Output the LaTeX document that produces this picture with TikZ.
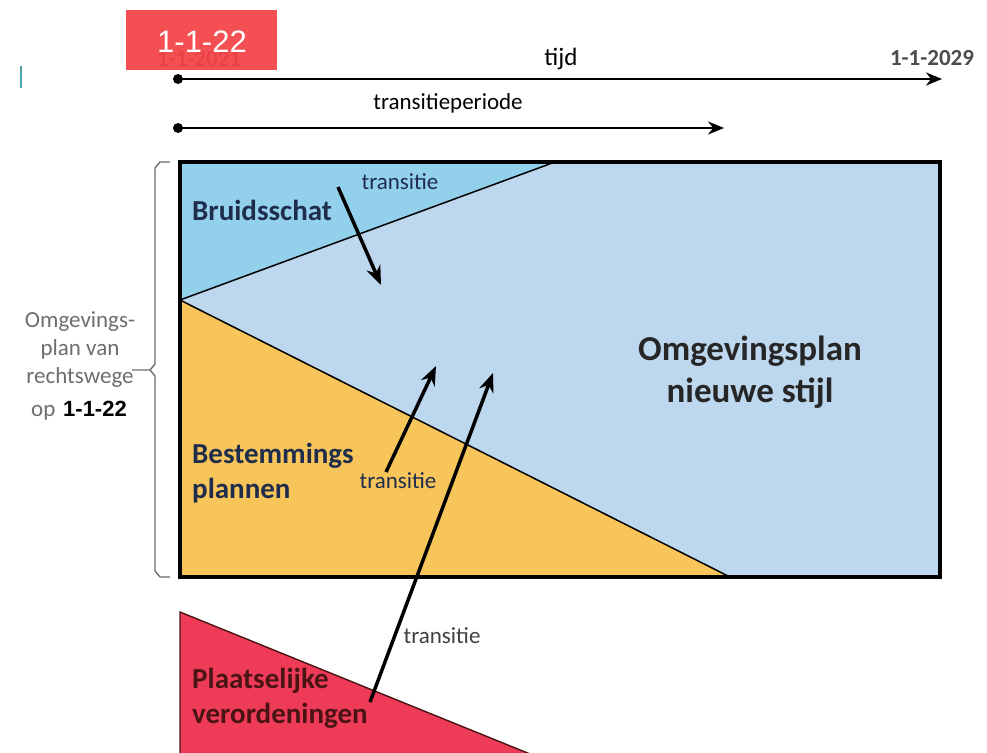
\documentclass[tikz,border=0pt]{standalone}
\usepackage{fontspec}
\setmainfont{Carlito}
\newfontfamily\arialfont{Liberation Sans}
\usetikzlibrary{arrows.meta}
\definecolor{bsblue}{HTML}{92D0EC}
\definecolor{mainblue}{HTML}{BDD7EE}
\definecolor{bpgold}{HTML}{F8C55A}
\definecolor{pvred}{HTML}{EE3B57}
\definecolor{navy}{HTML}{1F2D4D}
\definecolor{darkred}{HTML}{4A1414}
\definecolor{labelred}{HTML}{F44245}
\definecolor{greytext}{HTML}{6E6E6E}
\tikzset{
  timeline/.style={line width=2.6pt, -{Stealth[length=16pt,width=13pt]}},
  transarrow/.style={line width=3.5pt, -{Stealth[length=19pt,width=15pt]}},
  bigtitle/.style={font=\fontsize{29}{35}\selectfont\bfseries, text=navy, align=left, anchor=west, inner sep=0pt},
  smalltext/.style={font=\fontsize{23}{28}\selectfont, inner sep=0pt},
}
\begin{document}
\begin{tikzpicture}[x=1pt,y=-1pt]
\useasboundingbox (0,0) rectangle (987,752);
\fill[white] (0,0) rectangle (987,752);
% main rectangle
\fill[mainblue] (180,162) rectangle (940,577);
\fill[bsblue] (180,162) -- (555,162) -- (180,300) -- cycle;
\fill[bpgold] (180,300) -- (180,577) -- (730,577) -- cycle;
\draw[line width=1.5pt] (180,300) -- (555,162);
\draw[line width=1.5pt] (180,300) -- (730,577);
\draw[line width=3.2pt] (180,162) rectangle (940,577);
% red triangle
\fill[pvred, draw=darkred, line width=1.4pt] (180,612) -- (535,756) -- (180,756) -- cycle;
% brace
\draw[greytext, line width=1.4pt] (170,162) -- (160,162) -- (155,168) -- (155,364) -- (150,370) -- (132,370);
\draw[greytext, line width=1.4pt] (150,370) -- (155,376) -- (155,571) -- (160,577) -- (170,577);
% timelines
\coordinate (t0) at (178,79);
\coordinate (t1) at (942,79);
\coordinate (p0) at (178,128);
\coordinate (p1) at (724,128);
\fill (t0) circle (5);
\fill (p0) circle (5);
\draw[timeline] (t0) -- (t1);
\draw[timeline] (p0) -- (p1);
\node[smalltext, font=\fontsize{25}{30}\selectfont] (tijd) at (561,59) {tijd};
\node[smalltext, font=\fontsize{23}{28}\selectfont\bfseries, text=black!70] (end) at (932,58) {1-1-2029};
\node[smalltext] (tp) at (448,103) {transitieperiode};
% start date + red overlay label
\node[smalltext, font=\fontsize{23}{28}\selectfont\bfseries, text=darkred!80] (start) at (199,59) {1-1-2021};
\fill[labelred, opacity=0.93] (126,10) rectangle (277,70);
\node[font=\arialfont\fontsize{31}{34}\selectfont, text=white, inner sep=0pt] (red) at (202,42) {1-1-22};
% small teal mark
\draw[teal!70, line width=2.5pt] (21,66) -- (21,88);
% left label
\node[smalltext, text=greytext, align=center, anchor=north] (leftlbl) at (80,311) {Omgevings-\\plan van\\rechtswege};
\node[smalltext, text=greytext, anchor=base west] (op) at (31,416) {op};
\node[font=\arialfont\fontsize{22}{26}\selectfont\bfseries, anchor=base west, inner sep=0pt] (opdate) at (63,416) {1-1-22};
% region titles
\node[bigtitle] (bs) at (192,210) {Bruidsschat};
\node[bigtitle, anchor=north west] (bp) at (192,443) {Bestemmings\\plannen};
\node[bigtitle, text=darkred, anchor=north west] (pv) at (192,668) {Plaatselijke\\verordeningen};
\node[font=\fontsize{35}{42}\selectfont\bfseries, text=black!85, align=center, inner sep=0pt] (ons) at (750,372) {Omgevingsplan\\nieuwe stijl};
% transitie labels and arrows
\node[smalltext, text=navy] (tr1) at (400,182) {transitie};
\node[smalltext, text=navy] (tr2) at (398,481) {transitie};
\node[smalltext, text=black!75] (tr3) at (442,636) {transitie};
\coordinate (a1s) at (338,187);
\coordinate (a1e) at (381,285);
\coordinate (a2s) at (386,472);
\coordinate (a2e) at (436,366);
\coordinate (a3s) at (370,702);
\coordinate (a3e) at (493,373);
\draw[transarrow] (a1s) -- (a1e);
\draw[transarrow] (a2s) -- (a2e);
\draw[transarrow] (a3s) -- (a3e);
\end{tikzpicture}
\end{document}
